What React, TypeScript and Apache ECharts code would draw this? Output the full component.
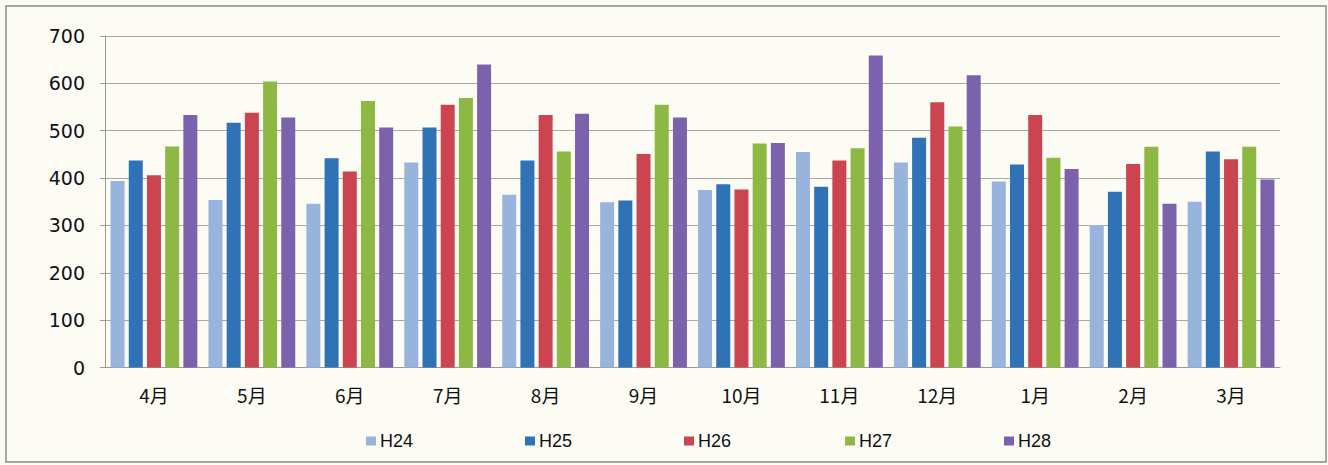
import React, { useEffect, useRef } from "react";
import * as echarts from "echarts";

const months = ["4月", "5月", "6月", "7月", "8月", "9月", "10月", "11月", "12月", "1月", "2月", "3月"];
const seriesNames = ["H24", "H25", "H26", "H27", "H28"];
const h24 = [394, 354, 346, 433, 365, 349, 375, 455, 433, 393, 301, 350];
const h25 = [437, 517, 442, 507, 437, 353, 387, 382, 485, 429, 371, 456];
const h26 = [406, 538, 414, 555, 533, 451, 376, 437, 560, 533, 430, 440];
const h27 = [467, 604, 563, 569, 456, 555, 473, 463, 509, 443, 466, 466];
const h28 = [533, 528, 507, 640, 536, 528, 474, 659, 617, 419, 346, 397];
const colors = ["#98B4DC", "#2F72B5", "#CB4450", "#8DB843", "#7C62AC"];
const legendLefts = [361, 520, 679, 840, 999];

export default function App() {
  const ref = useRef<HTMLDivElement>(null);
  useEffect(() => {
    const chart = echarts.init(ref.current!, null, { renderer: "svg" });
    const data = [h24, h25, h26, h27, h28];
    chart.setOption({
      animation: false,
      backgroundColor: "#FCFCF5",
      color: colors,
      graphic: [
        {
          type: "rect",
          shape: { x: 6, y: 6, width: 1320, height: 456 },
          style: { fill: "none", stroke: "#8A8A8A", lineWidth: 1.5 },
          silent: true,
        },
      ],
      grid: { left: 105, right: 48, top: 36, bottom: 97.4 },
      legend: seriesNames.map((name, i) => ({
        left: legendLefts[i],
        top: 427,
        itemWidth: 10,
        itemHeight: 9,
        itemGap: 4,
        icon: "rect",
        textStyle: {
          fontSize: 18,
          color: "#111",
          fontFamily: "Liberation Sans",
          padding: [0, 0, 0, -1],
        },
        data: [name],
      })),
      xAxis: {
        type: "category",
        data: months,
        axisLine: { lineStyle: { color: "#999", width: 1 } },
        axisTick: { show: false },
        axisLabel: {
          margin: 17,
          fontSize: 19,
          color: "#111",
          fontFamily: "Noto Sans CJK JP",
        },
      },
      yAxis: {
        type: "value",
        min: 0,
        max: 700,
        interval: 100,
        axisLine: { show: true, lineStyle: { color: "#999", width: 1 } },
        axisTick: { show: true, length: 5, lineStyle: { color: "#999" } },
        splitLine: { lineStyle: { color: "#A8A8A8", width: 1 } },
        axisLabel: {
          margin: 20,
          fontSize: 19,
          color: "#111",
          fontFamily: "DejaVu Sans",
        },
      },
      series: seriesNames.map((name, i) => ({
        name,
        type: "bar",
        data: data[i],
        barWidth: 14,
        barGap: "30%",
        itemStyle: { color: colors[i] },
      })),
    });
    return () => chart.dispose();
  }, []);
  return (
    <div
      ref={ref}
      style={{ position: "fixed", left: 0, top: 0, width: 1328, height: 465 }}
    />
  );
}
